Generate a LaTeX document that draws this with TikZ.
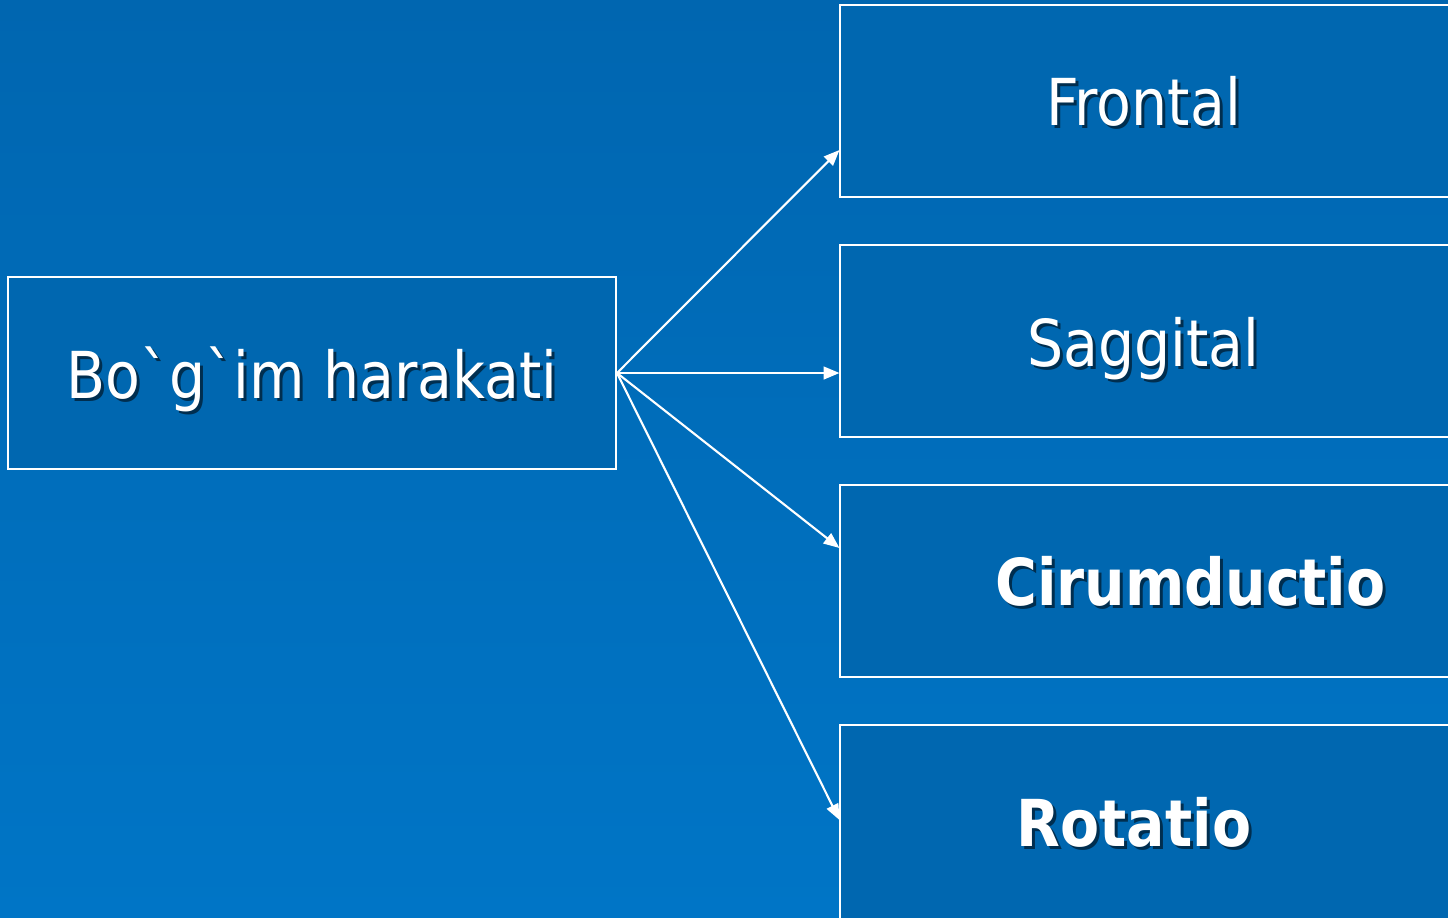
\documentclass[tikz,border=0pt]{standalone}
\usepackage{fontspec}
\newfontfamily\dv{DejaVu Sans}
\usetikzlibrary{arrows.meta,calc}
\definecolor{bgtop}{HTML}{0066B0}
\definecolor{bgbot}{HTML}{0075C6}
\definecolor{boxfill}{HTML}{0067B0}
\tikzset{
  box/.style={draw=white, line width=0.6pt, fill=boxfill},
  lbl/.style={text=white, inner sep=0pt, anchor=base, font=\dv\fontsize{18.4}{22}\selectfont},
  lblb/.style={lbl, font=\dv\fontsize{18.4}{22}\selectfont\bfseries},
  shd/.style={text=black, opacity=0.55, inner sep=0pt},
  conn/.style={draw=white, line width=0.6pt, -{Triangle[length=4.5pt,width=3.6pt]}}
}
\newcommand{\stxt}[4]{%
  \node[#4, shd] at ($(#2)+(3,3)$) {\scalebox{0.88}[1]{#3}};
  \node[#4] (#1) at (#2) {\scalebox{0.88}[1]{#3}};}
\newcommand{\gr}{\char96\relax}
\begin{document}
\begin{tikzpicture}[x=0.01cm,y=-0.01cm]
\useasboundingbox (0,0) rectangle (1448,917);
\clip (0,0) rectangle (1448,917);
\shade[top color=bgtop, bottom color=bgbot] (0,0) rectangle (1448,917);
\draw[box] (8,277) rectangle (616,469);
\draw[box] (840,5) rectangle (1460,197);
\draw[box] (840,245) rectangle (1460,437);
\draw[box] (840,485) rectangle (1460,677);
\draw[box] (840,725) rectangle (1460,930);
\coordinate (src) at (617,373);
\coordinate (t1) at (839.5,150);
\coordinate (t2) at (839.5,373);
\coordinate (t3) at (839.5,548);
\coordinate (t4) at (839.5,820);
\draw[conn] (src) -- (t1);
\draw[conn] (src) -- (t2);
\draw[conn] (src) -- (t3);
\draw[conn] (src) -- (t4);
\coordinate (p0) at (312,398);
\coordinate (p1) at (1143.5,125);
\coordinate (p2) at (1143.5,366);
\coordinate (p3) at (1190.5,605);
\coordinate (p4) at (1134,846);
\stxt{a}{p0}{Bo\gr g\gr im harakati}{lbl}
\stxt{b}{p1}{Frontal}{lbl}
\stxt{c}{p2}{Saggital}{lbl}
\stxt{d}{p3}{Cirumductio}{lblb}
\stxt{e}{p4}{Rotatio}{lblb}
\end{tikzpicture}
\end{document}
